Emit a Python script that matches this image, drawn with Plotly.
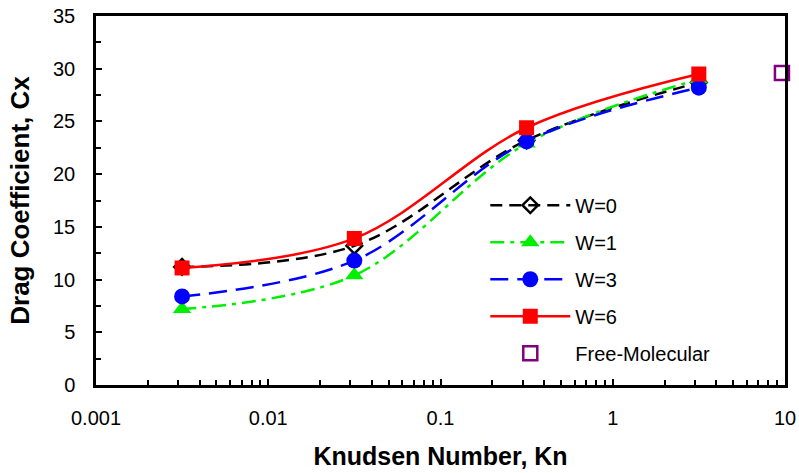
import plotly.graph_objects as go

kn = [0.00316, 0.0316, 0.316, 3.16]
cx_w0 = [11.2, 13.2, 23.2, 28.7]
cx_w1 = [7.2, 10.4, 22.9, 29.0]
cx_w3 = [8.4, 11.8, 23.1, 28.2]
cx_w6 = [11.1, 13.9, 24.4, 29.5]
kn_fm = [9.6]
cx_fm = [29.6]

x_ticks = [0.001, 0.01, 0.1, 1, 10]
x_tick_labels = ["0.001", "0.01", "0.1", "1", "10"]
x_minor = [m * d for d in [0.001, 0.01, 0.1, 1] for m in range(2, 10)]

fig = go.Figure()

series = [
    ("W=0", cx_w0, "black", "12px,7px", dict(symbol="diamond-open", size=12, color="black", line=dict(width=2.5, color="black"))),
    ("W=1", cx_w1, "#00ee00", "14px,6px,4px,6px", dict(symbol="triangle-up", size=16, color="#00ee00")),
    ("W=3", cx_w3, "blue", "18px,9px", dict(symbol="circle", size=16, color="blue")),
    ("W=6", cx_w6, "red", "solid", dict(symbol="square", size=15, color="red")),
]
for i, (name, ys, col, dash, mk) in enumerate(series):
    fig.add_trace(go.Scatter(
        x=kn, y=ys, name=name, mode="lines+markers",
        line=dict(color=col, width=2.5, dash=dash, shape="spline", smoothing=1.0),
        marker=mk, legendgroup=f"g{i}",
    ))

fig.add_trace(go.Scatter(
    x=kn_fm, y=cx_fm, name="Free-Molecular", mode="markers",
    marker=dict(symbol="square-open", size=14, color="purple", line=dict(width=2.5, color="purple")),
    legendgroup="g4", cliponaxis=False,
))

font_family = "Liberation Sans, Arial, sans-serif"
fig.update_layout(
    width=799, height=473,
    margin=dict(l=96, r=14, t=16, b=88),
    paper_bgcolor="white", plot_bgcolor="white",
    font=dict(family=font_family, size=20, color="black"),
    showlegend=True,
    legend=dict(x=0.565, y=0.54, xanchor="left", yanchor="top",
                bgcolor="rgba(0,0,0,0)", font=dict(size=20),
                tracegroupgap=8, itemwidth=80),
    xaxis=dict(
        type="log", range=[-3, 1], tickvals=x_ticks, ticktext=x_tick_labels,
        showline=True, linecolor="black", linewidth=2.5, mirror=True,
        ticks="inside", ticklen=6, tickwidth=1.5, tickcolor="black",
        showgrid=False, zeroline=False, automargin=False,
        minor=dict(tickmode="array", tickvals=x_minor, ticks="inside", ticklen=5,
                   tickwidth=1.5, tickcolor="black", showgrid=False),
        title=dict(text="<b>Knudsen Number, Kn</b>", font=dict(size=25), standoff=20),
        tickfont=dict(size=20), ticklabelstandoff=13,
    ),
    yaxis=dict(
        range=[0, 35], dtick=5,
        showline=True, linecolor="black", linewidth=2.5, mirror=True,
        ticks="inside", ticklen=6, tickwidth=1.5, tickcolor="black",
        showgrid=False, zeroline=False, automargin=False,
        minor=dict(dtick=2.5, ticks="inside", ticklen=5, tickwidth=1.5, tickcolor="black", showgrid=False),
        title=dict(text="<b>Drag Coefficient, Cx</b>", font=dict(size=26), standoff=16),
        tickfont=dict(size=20), ticklabelstandoff=14,
    ),
)

fig.write_html("out.html", config={"displayModeBar": False},
               post_script="document.body.style.margin='0';document.body.style.overflow='hidden';")
